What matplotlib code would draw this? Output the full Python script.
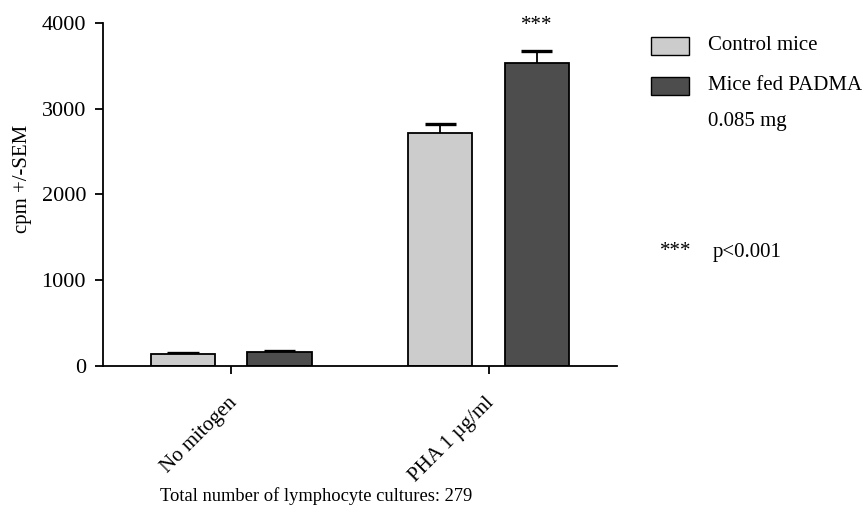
import matplotlib
matplotlib.use("Agg")
import matplotlib.pyplot as plt
from matplotlib.patches import Rectangle
import matplotlib.transforms as mtransforms
import numpy as np

categories = ["No mitogen", "PHA 1 µg/ml"]
control_mean = [133, 2711]
control_sem = [12, 112]
padma_mean = [156, 3533]
padma_sem = [19, 145]
series_labels = ["Control mice", "Mice fed PADMA\n0.085 mg"]
y_ticks = [0, 1000, 2000, 3000, 4000]

plt.rcParams['font.family'] = ['Liberation Serif', 'DejaVu Serif']
FS = 15

fig = plt.figure(figsize=(8.68, 5.13), dpi=100)
ax = fig.add_axes([0.1183, 0.2871, 0.711 - 0.1183, 0.955 - 0.2871])

x = np.arange(len(categories))
w = 0.25
off = 0.1875
cap_half = 0.061
c_light = "#cccccc"
c_dark = "#4d4d4d"

for xs, mean, sem, col in [(x - off, control_mean, control_sem, c_light),
                           (x + off, padma_mean, padma_sem, c_dark)]:
    mean = np.array(mean)
    sem = np.array(sem)
    ax.vlines(xs, mean, mean + sem, color="black", linewidth=1.3, zorder=1)
    ax.hlines(mean + sem, xs - cap_half, xs + cap_half, color="black", linewidth=2.4, zorder=1)
    ax.bar(xs, mean, w, color=col, edgecolor="black", linewidth=1.3, zorder=2)

ax.text(x[1] + off, padma_mean[1] + padma_sem[1] + 180, "***", ha="center", va="bottom", fontsize=FS)

ax.set_xlim(-0.5, 1.5)
ax.set_ylim(0, 4000)
ax.set_yticks(y_ticks)
ax.set_xticks(x)
ax.set_xticklabels(categories, rotation=45, ha="right", rotation_mode="anchor", fontsize=FS)
ax.set_yticklabels([str(t) for t in y_ticks], fontsize=16)
ax.set_ylabel("cpm +/-SEM", fontsize=FS)
ax.yaxis.set_label_coords((32 - 102.7) / 514.3, (366 - 179) / 343)
for s in ["top", "right"]:
    ax.spines[s].set_visible(False)
for s in ["left", "bottom"]:
    ax.spines[s].set_linewidth(1.3)
ax.tick_params(axis="both", length=6, width=1.3, direction="out")
ax.tick_params(axis="y", pad=6)
ax.tick_params(axis="x", pad=14)
shift = mtransforms.ScaledTranslation(-4 / 100, 0, fig.dpi_scale_trans)
for lbl in ax.get_xticklabels():
    lbl.set_transform(lbl.get_transform() + shift)

W, H = 868, 513
fig.text(316 / W, 1 - 496 / H, "Total number of lymphocyte cultures: 279", ha="center", va="center", fontsize=13.3)

# legend
for (yt, col, lab) in [(36.7, c_light, series_labels[0]), (76.7, c_dark, series_labels[1])]:
    fig.patches.append(Rectangle((651 / W, 1 - (yt + 18) / H), 38 / W, 18 / H, facecolor=col,
                                 edgecolor="black", linewidth=1.0, transform=fig.transFigure))
    for i, line in enumerate(lab.split("\n")):
        fig.text(708 / W, 1 - (yt + 9 + 36 * i) / H, line, ha="left", va="center", fontsize=FS)

fig.text(660 / W, 1 - 252 / H, "***", ha="left", va="center", fontsize=FS)
fig.text(713 / W, 1 - 252 / H, "p<0.001", ha="left", va="center", fontsize=FS)

fig.savefig("out.png", dpi=100)
